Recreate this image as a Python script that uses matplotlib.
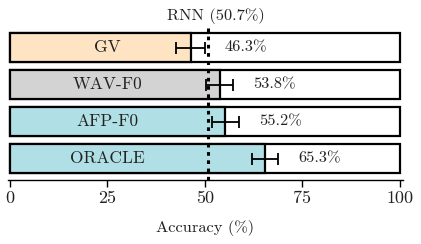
import matplotlib
matplotlib.use("Agg")
import matplotlib.pyplot as plt

plt.rcParams['font.family'] = 'serif'
plt.rcParams['font.serif'] = ['cmr10']
plt.rcParams['mathtext.fontset'] = 'cm'
plt.rcParams['axes.formatter.use_mathtext'] = True

categories = ["GV", "WAV-F0", "AFP-F0", "ORACLE"]
values = [46.3, 53.8, 55.2, 65.3]
errors = [3.8, 3.5, 3.5, 3.3]
colors = ["#FFE4C4", "#D3D3D3", "#B0DFE5", "#B0DFE5"]
rnn = 50.7
xticks = [0, 25, 50, 75, 100]

fig = plt.figure(figsize=(4.21, 2.44), dpi=100)
ax = fig.add_axes([8/421, 64/244, 395/421, 152/244])

ypos = [3, 2, 1, 0]
h = 0.78
for y, cat, v, e, c in zip(ypos, categories, values, errors, colors):
    ax.barh(y, 100, height=h, color="white", edgecolor="black", linewidth=1.6, zorder=1)
    ax.barh(y, v, height=h, color=c, edgecolor="black", linewidth=1.6, zorder=2)
    ax.errorbar(v, y, xerr=e, fmt="none", ecolor="black", elinewidth=1.3, capsize=4, capthick=1.3, zorder=4)
    ax.text(25, y, cat, ha="center", va="center", fontsize=12.5, color="#222222", zorder=5)
    ax.text(v + 8.6, y, f"{v:.1f}%", ha="left", va="center", fontsize=11.8, color="#222222", zorder=5)

ax.axvline(rnn, color="black", linestyle=(0, (1.2, 1.5)), linewidth=2.2, zorder=3)
ax.text(rnn + 2, 3.53 + 0.12, f"RNN ({rnn}%)", ha="center", va="bottom", fontsize=11.8, color="#222222")

ax.set_xlim(-0.51, 100.77)
ax.set_ylim(-0.58, 3.53)
ax.set_xticks(xticks)
ax.set_xticklabels([str(t) for t in xticks], fontsize=13, color="#222222")
ax.set_yticks([])
for s in ["top", "right", "left"]:
    ax.spines[s].set_visible(False)
ax.spines["bottom"].set_linewidth(1.0)
ax.tick_params(axis="x", length=5, width=1.0, pad=3)
ax.set_xlabel("Accuracy (%)", fontsize=11.8, labelpad=10, color="#222222")

fig.savefig("out.png", dpi=100)
